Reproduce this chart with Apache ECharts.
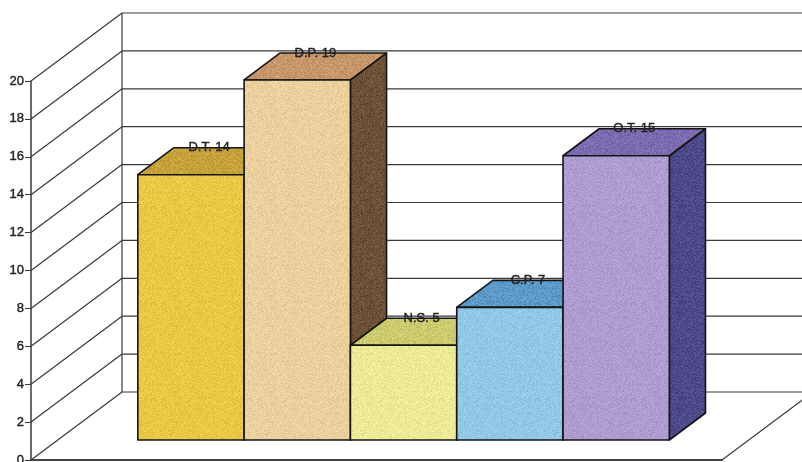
<!DOCTYPE html>
<html>
<head>
<meta charset="utf-8">
<style>html,body{margin:0;padding:0;background:#fff}#chart{width:802px;height:462px}</style>
<script src="https://cdn.jsdelivr.net/npm/echarts@6/dist/echarts.min.js"></script>
</head>
<body>
<div id="chart"></div>
<script>
const categories = ['D.T.', 'D.P.', 'N.S.', 'C.P.', 'O.T.'];
const values = [14, 19, 5, 7, 15];
const yTicks = [0, 2, 4, 6, 8, 10, 12, 14, 16, 18, 20];
const frontColors = ['#EBC843', '#EBD09E', '#EDEA96', '#90C8E6', '#AE9CD0'];
const topColors = ['#C4A238', '#C89769', '#CBCA6C', '#5C98C8', '#7C6AB0'];
const sideColors = ['#8A7430', '#6C5135', '#8F8E48', '#3F6C90', '#4B4988'];

// Oblique projection: full chart depth in pixels, bars occupy a slice of it.
const DEPTH_X = 91, DEPTH_Y = -68;
const BAR_NEAR = 0.294, BAR_FAR = 0.691;
const BAR_HALF = 0.5;
const X_MIN = -1.253, X_MAX = 5.247;
const INK = '#141414', GRID_INK = '#3a3a3a';
const FONT = '"Liberation Sans", Arial, sans-serif';

// Speckled paper-like fill: a small tile with a fixed hash-based grain.
function grainFill(hex, amount) {
  const size = 96;
  const cv = document.createElement('canvas');
  cv.width = cv.height = size;
  const ctx = cv.getContext('2d');
  const img = ctx.createImageData(size, size);
  const r = parseInt(hex.slice(1, 3), 16), g = parseInt(hex.slice(3, 5), 16), b = parseInt(hex.slice(5, 7), 16);
  for (let y = 0; y < size; y++) {
    for (let x = 0; x < size; x++) {
      const h = Math.sin(x * 12.9898 + y * 78.233) * 43758.5453;
      const d = ((h - Math.floor(h)) - 0.5) * 2 * amount;
      const k = (y * size + x) * 4;
      img.data[k] = Math.max(0, Math.min(255, r + d));
      img.data[k + 1] = Math.max(0, Math.min(255, g + d));
      img.data[k + 2] = Math.max(0, Math.min(255, b + d));
      img.data[k + 3] = 255;
    }
  }
  ctx.putImageData(img, 0, 0);
  return { image: cv, repeat: 'repeat' };
}

const chart = echarts.init(document.getElementById('chart'), null, { renderer: 'canvas' });

function project(api, x, y, depth) {
  const p = api.coord([x, y]);
  return [p[0] + DEPTH_X * depth, p[1] + DEPTH_Y * depth];
}

function wallItem(params, api) {
  const v = api.value(0);
  const a = project(api, X_MIN, v, 0);
  const b = project(api, X_MIN, v, 1);
  const line = (p, q) => ({
    type: 'line',
    shape: { x1: p[0], y1: p[1], x2: q[0], y2: q[1] },
    style: { stroke: GRID_INK, lineWidth: 1.2 }
  });
  const children = [line(a, b), line(b, [802, b[1]])];
  if (v === 0) {
    children.push(line(project(api, X_MAX, 0, 0), project(api, X_MAX, 0, 1)));
  }
  if (v === 20) {
    children.push(line(project(api, X_MIN, 0, 1), b));
  }
  return { type: 'group', children };
}

function barItem(params, api) {
  const i = api.value(0), v = api.value(1);
  const l = i - BAR_HALF, r = i + BAR_HALF;
  const poly = (pts, fill) => ({
    type: 'polygon',
    shape: { points: pts },
    style: { fill, stroke: INK, lineWidth: 1.6, lineJoin: 'round' }
  });
  const fbl = project(api, l, 0, BAR_NEAR), fbr = project(api, r, 0, BAR_NEAR);
  const ftl = project(api, l, v, BAR_NEAR), ftr = project(api, r, v, BAR_NEAR);
  const bbr = project(api, r, 0, BAR_FAR);
  const btl = project(api, l, v, BAR_FAR), btr = project(api, r, v, BAR_FAR);
  return {
    type: 'group',
    children: [
      poly([fbr, bbr, btr, ftr], grainFill(sideColors[i], 16)),
      poly([ftl, ftr, btr, btl], grainFill(topColors[i], 16)),
      poly([fbl, fbr, ftr, ftl], grainFill(frontColors[i], 12))
    ]
  };
}

function labelItem(params, api) {
  const i = api.value(0), v = api.value(1);
  const p = project(api, i, v, BAR_FAR);
  return {
    type: 'text',
    x: p[0] - DEPTH_X * (BAR_FAR - BAR_NEAR) / 2,
    y: p[1],
    style: {
      text: categories[i] + ' ' + v,
      fill: '#222',
      stroke: '#222',
      lineWidth: 0.4,
      font: '13px ' + FONT,
      align: 'center',
      verticalAlign: 'middle'
    }
  };
}

chart.setOption({
  animation: false,
  backgroundColor: '#fff',
  grid: { left: 31, top: 81, width: 691, height: 379, outerBoundsMode: 'none' },
  xAxis: {
    type: 'value', min: X_MIN, max: X_MAX,
    axisLine: { onZero: false, lineStyle: { color: '#444', width: 2 } },
    axisTick: { show: false }, axisLabel: { show: false }, splitLine: { show: false }
  },
  yAxis: {
    type: 'value', min: 0, max: 20, interval: 2,
    axisLine: { show: true, onZero: false, lineStyle: { color: GRID_INK, width: 1.5 } },
    axisTick: { show: true, length: 6, lineStyle: { color: GRID_INK, width: 1 } },
    axisLabel: { color: '#222', fontSize: 13, margin: 7, fontFamily: FONT,
      textBorderColor: '#222', textBorderWidth: 0.4 },
    splitLine: { show: false }
  },
  series: [
    { type: 'custom', renderItem: wallItem, clip: false, silent: true, z: 1,
      data: yTicks.map(t => [t]) },
    { type: 'custom', renderItem: barItem, clip: false, silent: true, z: 2,
      data: values.map((v, i) => [i, v]) },
    { type: 'custom', renderItem: labelItem, clip: false, silent: true, z: 3,
      data: values.map((v, i) => [i, v]) }
  ]
});
</script>
</body>
</html>
